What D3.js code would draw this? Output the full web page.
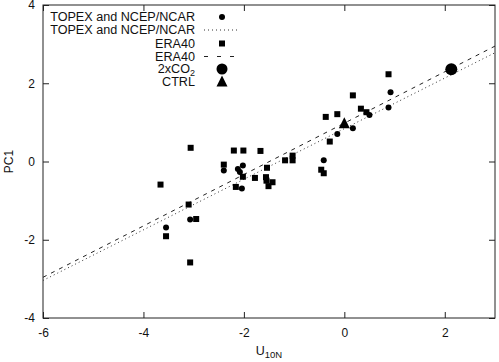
<!DOCTYPE html>
<html>
<head>
<meta charset="utf-8">
<script src="https://cdn.jsdelivr.net/npm/d3@7"></script>
<style>
  body { margin: 0; background: #fff; }
  svg { display: block; }
  text { font-family: "Liberation Sans", Arial, Helvetica, sans-serif; }
</style>
</head>
<body>
<div class="chart"></div>
<script>
// TOPEX and NCEP/NCAR points (U10N, PC1)
const topexU = [-3.55, -3.07, -2.40, -2.12, -2.02, -2.08, -2.04, -0.41, -0.14, 0.17, 0.50, 0.88, 0.92];
const topexPC = [-1.69, -1.48, -0.23, -0.19, -0.10, -0.27, -0.69, 0.03, 0.70, 0.85, 1.19, 1.38, 1.77];

// ERA40 points
const eraU = [-3.66, -3.10, -2.95, -3.55, -3.07, -3.06, -2.20, -2.01, -1.67, -2.40, -2.16, -2.02, -1.78,
              -1.54, -1.56, -1.55, -1.43, -1.51, -1.18, -1.03, -1.03, -0.46, -0.41, -0.29, -0.37, -0.14,
              0.17, 0.33, 0.44, 0.88];
const eraPC = [-0.59, -1.10, -1.47, -1.91, -2.58, 0.35, 0.28, 0.28, 0.27, -0.08, -0.65, -0.39, -0.42,
               -0.16, -0.40, -0.49, -0.53, -0.63, 0.03, 0.15, 0.03, -0.21, -0.30, 0.51, 1.14, 1.21,
               1.69, 1.35, 1.26, 2.23];

// model runs
const co2Point = [2.13, 2.36];
const ctrlPoint = [0.0, 0.96];

// regression lines (end points)
const topexFit = [[-6, -3.04], [3, 2.78]];
const eraFit = [[-6, -2.96], [3, 2.95]];

const xTicks = [-6, -4, -2, 0, 2];
const yTicks = [-4, -2, 0, 2, 4];

const w = 499, h = 362;
const pL = 43, pR = 495, pT = 5, pB = 318;

const svg = d3.select('.chart')
              .append('svg')
              .attr('width', w)
              .attr('height', h);

const x = d3.scaleLinear().domain([-6, 3]).range([pL, pR]);
const y = d3.scaleLinear().domain([-4, 4]).range([pB, pT]);

const fmt = d => String(d);   // plain hyphen minus like gnuplot

// axes, ticks pointing inward on all four sides
const fixAxis = g => {
  g.select('.domain').remove();
  g.selectAll('line').attr('stroke', '#222');
  g.selectAll('text').attr('fill', '#111').style('font-size', '12px')
   .style('font-family', '"Liberation Sans", Arial, sans-serif');
};

svg.append('g')
   .attr('transform', `translate(0,${pB})`)
   .call(d3.axisBottom(x).tickValues(xTicks).tickFormat(fmt).tickSizeInner(-6).tickSizeOuter(0).tickPadding(10))
   .call(fixAxis);

svg.append('g')
   .attr('transform', `translate(0,${pT})`)
   .call(d3.axisTop(x).tickValues(xTicks).tickSizeInner(-6).tickSizeOuter(0).tickFormat(''))
   .call(fixAxis);

svg.append('g')
   .attr('transform', `translate(${pL},0)`)
   .call(d3.axisLeft(y).tickValues(yTicks).tickFormat(fmt).tickSizeInner(-6).tickSizeOuter(0).tickPadding(8))
   .call(fixAxis);

svg.append('g')
   .attr('transform', `translate(${pR},0)`)
   .call(d3.axisRight(y).tickValues(yTicks).tickSizeInner(-6).tickSizeOuter(0).tickFormat(''))
   .call(fixAxis);

svg.append('rect')
   .attr('x', pL).attr('y', pT)
   .attr('width', pR - pL).attr('height', pB - pT)
   .attr('fill', 'none').attr('stroke', '#222').attr('stroke-width', 1);

// fit lines
const line = d3.line().x(d => x(d[0])).y(d => y(d[1]));

svg.append('path')
   .attr('d', line(topexFit))
   .attr('fill', 'none').attr('stroke', '#333').attr('stroke-width', 1)
   .attr('stroke-dasharray', '1,3');

svg.append('path')
   .attr('d', line(eraFit))
   .attr('fill', 'none').attr('stroke', '#222').attr('stroke-width', 1)
   .attr('stroke-dasharray', '4,5');

// points
const sq = 6;
svg.selectAll('rect.era')
   .data(eraU.map((u, i) => [u, eraPC[i]]))
   .enter()
   .append('rect')
   .attr('class', 'era')
   .attr('x', d => x(d[0]) - sq / 2)
   .attr('y', d => y(d[1]) - sq / 2)
   .attr('width', sq).attr('height', sq)
   .attr('fill', '#000');

svg.selectAll('circle.topex')
   .data(topexU.map((u, i) => [u, topexPC[i]]))
   .enter()
   .append('circle')
   .attr('class', 'topex')
   .attr('cx', d => x(d[0]))
   .attr('cy', d => y(d[1]))
   .attr('r', 3)
   .attr('fill', '#000');

svg.append('circle')
   .attr('cx', x(co2Point[0])).attr('cy', y(co2Point[1]))
   .attr('r', 6).attr('fill', '#000');

const tri = (cx, cy, s) => `M${cx},${cy - s * 0.6}L${cx + s / 2},${cy + s * 0.4}L${cx - s / 2},${cy + s * 0.4}Z`;

svg.append('path')
   .attr('d', tri(x(ctrlPoint[0]), y(ctrlPoint[1]), 11))
   .attr('fill', '#000');

// legend
const lgX = 195, symX = 222, lineX0 = 204, lineX1 = 238;
const rowY = [17, 30, 43.5, 56.5, 69, 82];
const legendText = ['TOPEX and NCEP/NCAR', 'TOPEX and NCEP/NCAR', 'ERA40', 'ERA40', '2xCO', 'CTRL'];

const lg = svg.append('g').style('font-size', '12.5px').attr('fill', '#111');

const lgTexts = legendText.map((t, i) => {
  const txt = lg.append('text')
    .attr('x', lgX).attr('y', rowY[i]).attr('dy', '0.35em')
    .attr('text-anchor', 'end')
    .text(t);
  if (i === 4) {
    txt.append('tspan').attr('dy', 2.5).style('font-size', '9px').text('2');
  }
  return txt;
});

// keep the long legend label at the width it has in the figure (~145px)
const measured = lgTexts[0].node().getComputedTextLength();
if (measured > 0) {
  const fs = Math.min(13, 12.5 * 145 / measured);
  lg.style('font-size', fs + 'px');
}

lg.append('circle').attr('cx', symX).attr('cy', rowY[0]).attr('r', 3).attr('fill', '#000');
lg.append('line').attr('x1', lineX0).attr('x2', lineX1).attr('y1', rowY[1]).attr('y2', rowY[1])
  .attr('stroke', '#333').attr('stroke-dasharray', '1,3');
lg.append('rect').attr('x', symX - sq / 2).attr('y', rowY[2] - sq / 2)
  .attr('width', sq).attr('height', sq).attr('fill', '#000');
lg.append('line').attr('x1', lineX0).attr('x2', lineX1).attr('y1', rowY[3]).attr('y2', rowY[3])
  .attr('stroke', '#222').attr('stroke-dasharray', '4,9');
lg.append('circle').attr('cx', symX).attr('cy', rowY[4]).attr('r', 5.5).attr('fill', '#000');
lg.append('path').attr('d', tri(symX, rowY[5], 11)).attr('fill', '#000');

// axis titles
svg.append('text')
   .attr('transform', `translate(13,${(pT + pB) / 2}) rotate(-90)`)
   .attr('text-anchor', 'middle')
   .style('font-size', '12px')
   .attr('fill', '#111')
   .text('PC1');

const xl = svg.append('text')
   .attr('x', (pL + pR) / 2).attr('y', 355)
   .attr('text-anchor', 'middle')
   .style('font-size', '12.5px')
   .attr('fill', '#111')
   .text('U');
xl.append('tspan').attr('dy', 3).style('font-size', '9.5px').text('10N');
</script>
</body>
</html>
